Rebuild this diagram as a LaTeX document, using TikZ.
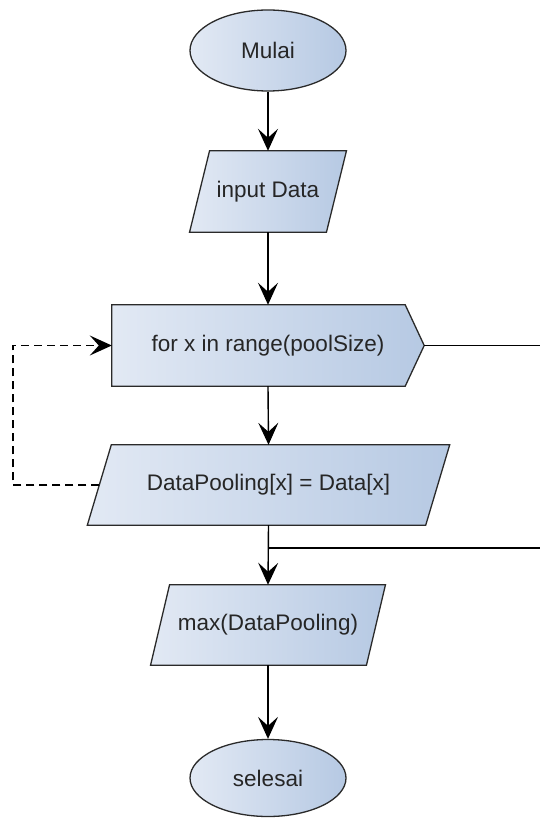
\documentclass[tikz,border=0pt]{standalone}
\usepackage{fontspec}
\setmainfont{Liberation Sans}
\usetikzlibrary{arrows.meta,shapes.geometric}
\definecolor{fillL}{HTML}{E2E9F4}
\definecolor{fillR}{HTML}{B6C9E3}
\definecolor{edge}{HTML}{2A2A2A}
\definecolor{txtc}{HTML}{262626}
\tikzset{
  base/.style={font=\fontsize{22.5}{26}\selectfont, text=txtc, inner sep=0pt},
  ghost/.style={base, rectangle, draw=none},
  term/.style={base, ellipse, draw=edge, line width=1.3pt, left color=fillL, right color=fillR, minimum width=156pt},
  shp/.style={draw=edge, line width=1.3pt, left color=fillL, right color=fillR},
  conn/.style={line width=1.4pt, draw=black},
  arr/.style={conn, -{Stealth[length=22pt,width=20pt,inset=9pt]}},
  loopback/.style={arr, dash pattern=on 8pt off 5pt}
}
\begin{document}
\begin{tikzpicture}[x=1pt,y=-1pt]
\useasboundingbox (0,0) rectangle (540,818);
% nodes
\node[term, minimum height=81pt] (start) at (268,50.5) {Mulai};
\node[ghost, minimum width=136.5pt, minimum height=81pt] (inp) at (268,191.5) {};
\node[ghost, minimum width=312pt, minimum height=81pt] (loop) at (268,345.5) {};
\node[ghost, minimum width=338pt, minimum height=80pt] (dp) at (268.5,485) {};
\node[ghost, minimum width=215.5pt, minimum height=80pt] (mx) at (268,625) {};
\node[term, minimum height=77pt] (end) at (268,778) {selesai};
% shapes
\path[shp] ([xshift=10pt]inp.north west) -- ([xshift=10pt]inp.north east)
  -- ([xshift=-10pt]inp.south east) -- ([xshift=-10pt]inp.south west) -- cycle;
\path[shp] (loop.north west) -- ([xshift=-19pt]loop.north east) -- (loop.east)
  -- ([xshift=-19pt]loop.south east) -- (loop.south west) -- cycle;
\path[shp] ([xshift=12pt]dp.north west) -- ([xshift=12pt]dp.north east)
  -- ([xshift=-12pt]dp.south east) -- ([xshift=-12pt]dp.south west) -- cycle;
\path[shp] ([xshift=9.5pt]mx.north west) -- ([xshift=9.5pt]mx.north east)
  -- ([xshift=-9.5pt]mx.south east) -- ([xshift=-9.5pt]mx.south west) -- cycle;
% texts
\node[base] at (inp) {input Data};
\node[base] at (loop) {for x in range(poolSize)};
\node[base] at (dp) {DataPooling[x] = Data[x]};
\node[base] at (mx) {max(DataPooling)};
% coordinates
\coordinate (exitR) at (540,345.5);
\coordinate (j) at (268,548);
\coordinate (joinR) at (540,548);
\coordinate (lb1) at (13,485);
\coordinate (lb2) at (13,345.5);
% connectors
\draw[arr] (start) -- (inp.north);
\draw[arr] (inp.south) -- (loop.north);
\draw[arr] (loop.south) -- (dp.north);
\draw[arr] (dp.south) -- (mx.north);
\draw[arr] (mx.south) -- (end.north);
\draw[conn] (loop.east) -- (exitR);
\draw[conn] (j) -- (joinR);
\draw[loopback] (dp.west) -- (lb1) -- (lb2) -- (loop.west);
\end{tikzpicture}
\end{document}
